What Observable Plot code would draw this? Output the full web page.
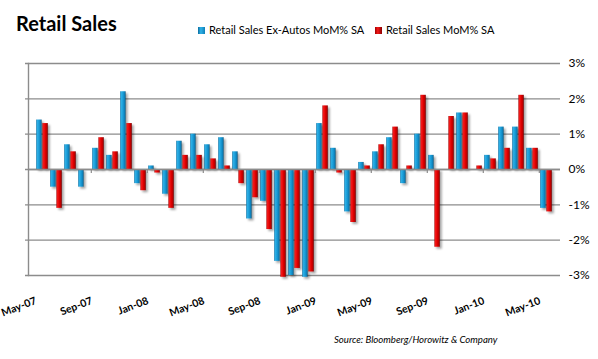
<!DOCTYPE html>
<html>
<head>
<meta charset="utf-8">
<script src="https://cdn.jsdelivr.net/npm/d3@7"></script>
<script src="https://cdn.jsdelivr.net/npm/@observablehq/plot@0.6"></script>
<style>
  html, body { margin: 0; padding: 0; background: #fff; }
  #wrap { position: relative; width: 598px; height: 359px; overflow: hidden; font-family: Lato, "Open Sans", sans-serif; }
  #wrap svg { position: absolute; left: 0; top: 0; }
  .title { position: absolute; left: 16px; top: 11px; font-size: 20px; font-weight: bold; color: #000; }
  .leg { position: absolute; top: 23px; font-size: 11px; color: #000; white-space: nowrap; }
  .sw { display: inline-block; width: 7px; height: 7px; margin-right: 4px; vertical-align: 0px; }
  .source { position: absolute; left: 334px; top: 334px; font-size: 9.6px; font-style: italic; color: #000; white-space: nowrap; }
</style>
</head>
<body>
<div id="wrap"></div>
<script>
const months = ["May-07","Jun-07","Jul-07","Aug-07","Sep-07","Oct-07","Nov-07","Dec-07",
  "Jan-08","Feb-08","Mar-08","Apr-08","May-08","Jun-08","Jul-08","Aug-08","Sep-08","Oct-08","Nov-08","Dec-08",
  "Jan-09","Feb-09","Mar-09","Apr-09","May-09","Jun-09","Jul-09","Aug-09","Sep-09","Oct-09","Nov-09","Dec-09",
  "Jan-10","Feb-10","Mar-10","Apr-10","May-10"];
const exAutos = [1.4,-0.5,0.7,-0.5,0.6,0.4,2.2,-0.4,0.1,-0.7,0.8,1.0,0.7,0.9,0.5,-1.4,-0.9,-2.6,-3.0,-3.05,1.3,0.6,-1.2,0.2,0.5,0.9,-0.4,1.0,0.4,0,1.6,0,0.4,1.2,1.2,0.6,-1.1];
const total = [1.3,-1.1,0.5,0,0.9,0.5,1.3,-0.6,-0.1,-1.1,0.4,0.4,0.3,0.1,-0.4,-0.8,-1.7,-3.05,-2.8,-2.9,1.8,-0.1,-1.5,0.1,0.7,1.2,0.1,2.1,-2.2,1.5,1.6,0.1,0.3,0.6,2.1,0.6,-1.2];
const yTicks = [-3,-2,-1,0,1,2,3];
const labelMonths = months.filter((m, i) => i % 4 === 0);
const boundaryMonths = months.filter((m, i) => i > 0 && i % 4 === 0);
const seriesNames = ["Retail Sales Ex-Autos MoM% SA", "Retail Sales MoM% SA"];

const rowsA = months.map((m, i) => ({month: m, value: exAutos[i]}));
const rowsT = months.map((m, i) => ({month: m, value: total[i]}));

const W = 598, H = 359, mL = 28, mR = 38, mT = 63, mB = 84;
const bw = (W - mL - mR) / months.length;
const grid = "#8c8c8c";

const chart = Plot.plot({
  width: W, height: H,
  marginLeft: mL, marginRight: mR, marginTop: mT, marginBottom: mB,
  style: {fontFamily: "Lato, 'Open Sans', sans-serif", background: "transparent", overflow: "visible"},
  x: {type: "band", domain: months, padding: 0},
  y: {domain: [-3, 3]},
  marks: [
    Plot.ruleY(yTicks, {stroke: grid, strokeWidth: 1.4, insetLeft: -3}),
    Plot.frame({anchor: "left", stroke: grid, strokeWidth: 1.4}),
    Plot.barY(rowsA, {x: "month", y: "value", fill: "url(#gBlue)", insetLeft: 1.2, insetRight: bw / 2 + 0.2}),
    Plot.barY(rowsT, {x: "month", y: "value", fill: "url(#gRed)", insetLeft: bw / 2 + 0.2, insetRight: 1.2}),
    Plot.ruleY([0], {stroke: grid, strokeWidth: 1.4}),
    Plot.tickX(boundaryMonths, {x: d => d, dx: -bw / 2, stroke: grid, strokeWidth: 1.2}),
    Plot.axisY({anchor: "right", ticks: yTicks, tickSize: 0, tickPadding: 8, tickFormat: d => `${d}%`, fontSize: 12, label: null}),
    Plot.axisX({ticks: labelMonths, tickSize: 0, tickRotate: -21, tickPadding: 15, textAnchor: "end", lineAnchor: "top", dx: -8, dy: 6, fontSize: 10.5, fontWeight: "bold", label: null})
  ]
});

const svg = d3.select(chart);
const y0 = chart.scale("y").apply(0);
svg.selectAll('g[aria-label="tick"] line').attr("y1", y0).attr("y2", y0 + 4);

const defs = svg.insert("defs", ":first-child");
const gb = defs.append("linearGradient").attr("id", "gBlue").attr("x1", "0").attr("x2", "1").attr("y1", "0").attr("y2", "0");
[["0%","#0b6d9f"],["18%","#2fb2e8"],["55%","#189ad5"],["82%","#0f7fb8"],["100%","#08496f"]]
  .forEach(([o,c]) => gb.append("stop").attr("offset", o).attr("stop-color", c));
const gr = defs.append("linearGradient").attr("id", "gRed").attr("x1", "0").attr("x2", "1").attr("y1", "0").attr("y2", "0");
[["0%","#a00000"],["18%","#f41818"],["55%","#de0000"],["82%","#b80000"],["100%","#6a0000"]]
  .forEach(([o,c]) => gr.append("stop").attr("offset", o).attr("stop-color", c));
const f = defs.append("filter").attr("id", "shadow").attr("x", "-20%").attr("y", "-20%").attr("width", "160%").attr("height", "140%");
f.append("feDropShadow").attr("dx", 2).attr("dy", 2).attr("stdDeviation", 1.3).attr("flood-color", "#000").attr("flood-opacity", 0.35);
svg.selectAll('g[aria-label="bar"]').attr("filter", "url(#shadow)");

const wrap = document.getElementById("wrap");
wrap.appendChild(chart);

const title = document.createElement("div");
title.className = "title"; title.textContent = "Retail Sales";
wrap.appendChild(title);

const legColors = ["linear-gradient(90deg,#0b6d9f,#2fb2e8 40%,#0f7fb8)", "linear-gradient(90deg,#a00000,#f41818 40%,#8a0000)"];
const legLeft = [198, 375];
seriesNames.forEach((name, i) => {
  const d = document.createElement("div");
  d.className = "leg"; d.style.left = legLeft[i] + "px";
  d.innerHTML = `<span class="sw" style="background:${legColors[i]}"></span>`;
  d.appendChild(document.createTextNode(name));
  wrap.appendChild(d);
});

const src = document.createElement("div");
src.className = "source"; src.textContent = "Source: Bloomberg/Horowitz & Company";
wrap.appendChild(src);
</script>
</body>
</html>
